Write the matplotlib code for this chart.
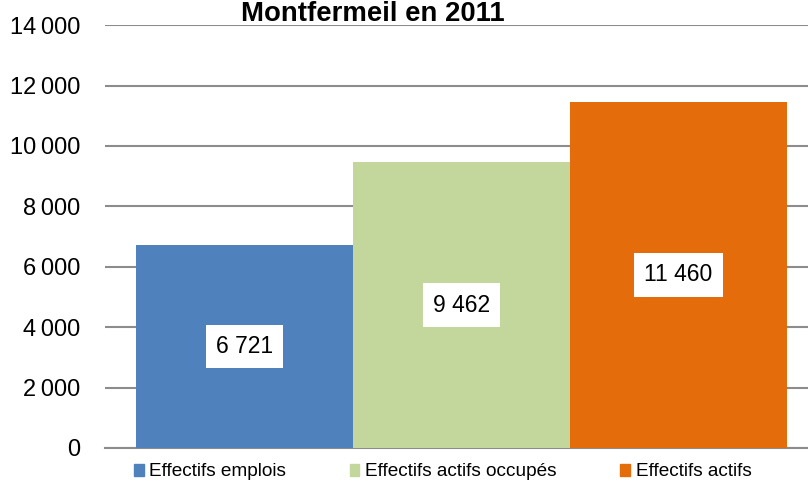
import matplotlib.pyplot as plt
from matplotlib.patches import Patch

plt.rcParams['font.family'] = ['Liberation Sans', 'DejaVu Sans']

series = ['Effectifs emplois', 'Effectifs actifs occupés', 'Effectifs actifs']
values = [6721, 9462, 11460]
labels = ['6 721', '9 462', '11 460']
colors = ['#4F81BD', '#C3D69B', '#E46C0A']
yticks = [0, 2000, 4000, 6000, 8000, 10000, 12000, 14000]
ytick_labels = ['0', '2\u2009000', '4\u2009000', '6\u2009000', '8\u2009000',
                '10\u2009000', '12\u2009000', '14\u2009000']

fig = plt.figure(figsize=(8.08, 4.83), dpi=100)
ax = fig.add_axes([0.13, 0.0725, 0.87, 0.8755])

x = list(range(len(values)))
ax.bar(x, values, width=1.0, color=colors, zorder=3)

# etiquettes au milieu des barres
for xi, v, lab in zip(x, values, labels):
    ax.text(xi, v / 2, lab, ha='center', va='center', fontsize=16.5, zorder=4,
            bbox=dict(boxstyle='square,pad=0.45', fc='white', ec='none'))

ax.set_xlim(-0.643, 2.597)
ax.set_ylim(0, 14000)
ax.set_yticks(yticks)
ax.set_yticklabels(ytick_labels, fontsize=17)
ax.set_xticks([])
ax.tick_params(axis='y', length=0, pad=18)
ax.grid(axis='y', color='#8c8c8c', linewidth=1.5, zorder=0)
for s in ['top', 'right', 'left']:
    ax.spines[s].set_visible(False)
ax.spines['bottom'].set_color('#8c8c8c')
ax.spines['bottom'].set_linewidth(1.5)
ax.set_axisbelow(True)

fig.text(0.4616, 1 - 21 / 483, 'Montfermeil en 2011', ha='center', va='baseline',
         fontsize=19.8, fontweight='bold')

handles = [Patch(color=c, label=s) for c, s in zip(colors, series)]
fig.legend(handles=handles, loc='center left', bbox_to_anchor=(134 / 808, 11 / 483),
           ncol=3, frameon=False, fontsize=13.7, borderpad=0, borderaxespad=0,
           handlelength=0.5, handleheight=0.55, handletextpad=0.3, columnspacing=3.35)

fig.savefig('out.png', dpi=100)
